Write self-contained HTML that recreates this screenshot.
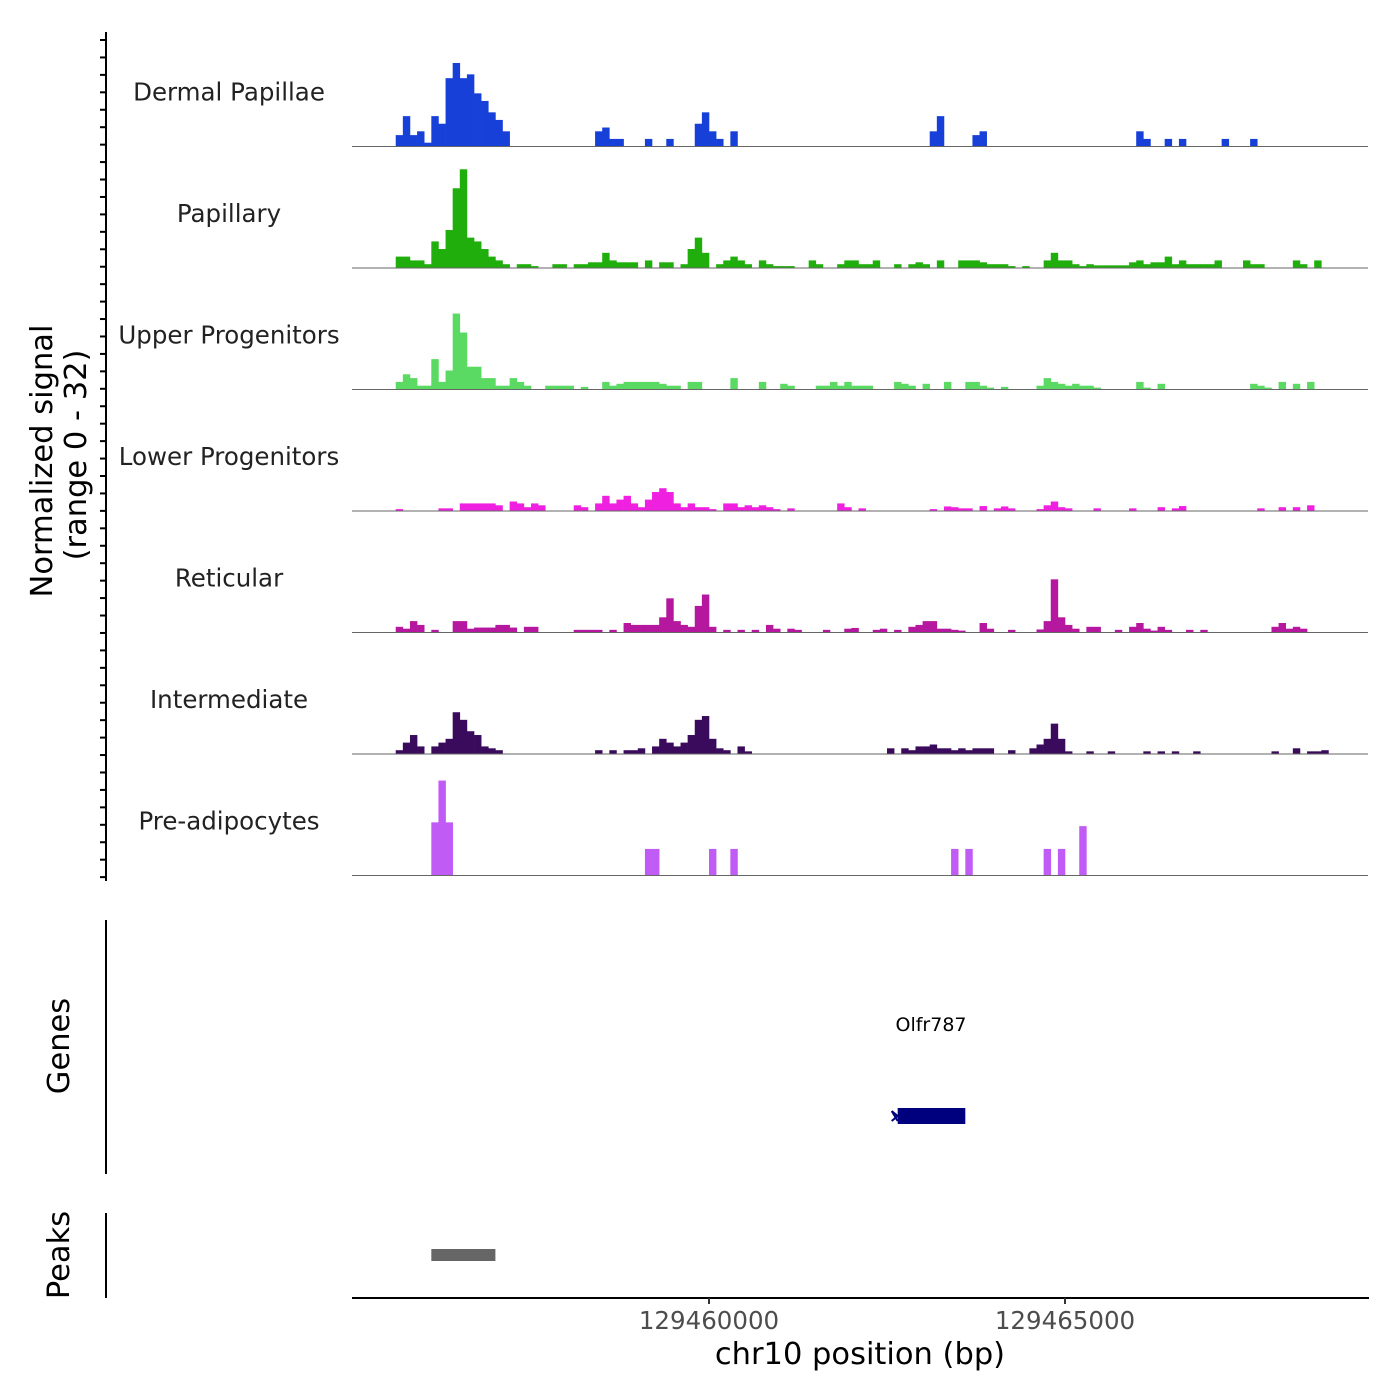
<!DOCTYPE html>
<html><head><meta charset="utf-8"><style>
html,body{margin:0;padding:0;background:#fff}
svg{display:block;font-family:"DejaVu Sans","Liberation Sans",sans-serif}
</style></head><body>
<svg id="chart" width="1400" height="1400" viewBox="0 0 1400 1400" xmlns="http://www.w3.org/2000/svg">
<g id="tracks"></g>
<g id="leftaxis"></g>
<text transform="translate(52,461) rotate(-90)" text-anchor="middle" font-size="30.5" fill="#000">Normalized signal</text>
<text transform="translate(86,455) rotate(-90)" text-anchor="middle" font-size="30.5" fill="#000">(range 0 - 32)</text>
<line x1="106" y1="920" x2="106" y2="1174" stroke="#000" stroke-width="2"/>
<text transform="translate(69,1046) rotate(-90)" text-anchor="middle" font-size="30.5" fill="#000">Genes</text>
<text x="931" y="1031" text-anchor="middle" font-size="19" fill="#000">Olfr787</text>
<g id="genes"></g>
<line x1="106" y1="1213" x2="106" y2="1298" stroke="#000" stroke-width="2"/>
<text transform="translate(69,1255) rotate(-90)" text-anchor="middle" font-size="30.5" fill="#000">Peaks</text>
<g id="peaks"></g>
<g id="xaxis"></g>
<text x="860" y="1364" text-anchor="middle" font-size="30.5" fill="#000">chr10 position (bp)</text>
</svg>
<script>
const binStart = 129455000;
const binSize = 100;
const trackNames = ["Dermal Papillae","Papillary","Upper Progenitors","Lower Progenitors","Reticular","Intermediate","Pre-adipocytes"];
const trackColors = ["#1740d9","#1fae0b","#5ad963","#f020e0","#b5179e","#3a0b5c","#c05cf5"];
const dermalPapillae = [[6,3],[7,8],[8,3],[9,4],[10,1],[11,8],[12,6],[13,18],[14,22],[15,18],[16,19],[17,14],[18,12],[19,9],[20,7],[21,4],[34,4],[35,5],[36,2],[37,2],[41,2],[44,2],[48,6],[49,9],[50,4],[51,2],[53,4],[81,4],[82,8],[87,3],[88,4],[110,4],[111,2],[114,2],[116,2],[122,2],[126,2]];
const papillary = [[6,3],[7,3],[8,2],[9,2],[10,1],[11,7],[12,5],[13,10],[14,21],[15,26],[16,8],[17,7],[18,5],[19,3],[20,2],[21,1],[23,1],[24,1],[25,0.5],[28,1],[29,1],[31,1],[32,1],[33,1.5],[34,1.5],[35,4],[36,2],[37,1.5],[38,1.5],[39,1.5],[41,2],[43,1.5],[44,1.5],[46,1],[47,5],[48,8],[49,4],[51,1],[52,2],[53,3],[54,2],[55,1],[57,2],[58,1],[59,0.5],[60,0.5],[61,0.5],[64,2],[65,1],[68,1],[69,2],[70,2],[71,1],[72,1],[73,2],[76,1],[78,1],[79,1.5],[80,1],[82,2],[85,2],[86,2],[87,2],[88,1.5],[89,1],[90,1],[91,1],[92,0.5],[94,0.5],[97,2],[98,4],[99,2],[100,2],[101,1],[102,0.5],[103,1],[104,0.7],[105,0.7],[106,0.7],[107,0.7],[108,0.7],[109,1.5],[110,2],[111,1],[112,1.5],[113,1.5],[114,3],[115,1],[116,2],[117,1],[118,1],[119,1],[120,1],[121,2],[125,2],[126,1],[127,1],[132,2],[133,1],[135,2]];
const upperProgenitors = [[6,2],[7,4],[8,3],[9,1],[10,1],[11,8],[12,2],[13,5],[14,20],[15,15],[16,6],[17,6],[18,3],[19,3],[20,1],[21,1],[22,3],[23,2],[24,1],[27,1],[28,1],[29,1],[30,1],[32,0.7],[35,2],[36,1],[37,1.5],[38,2],[39,2],[40,2],[41,2],[42,2],[43,1.5],[44,1],[45,1],[47,2],[48,2],[53,3],[57,2],[60,1.5],[61,1],[65,1],[66,1],[67,2],[68,1],[69,2],[70,1],[71,1],[72,1],[76,2],[77,1.5],[78,1],[80,1.5],[83,2],[86,2],[87,2],[88,1],[89,0.5],[91,0.7],[96,1],[97,3],[98,2],[99,1.5],[100,1],[101,1.5],[102,1],[103,1],[104,0.5],[110,2],[111,0.5],[113,1.5],[126,1.5],[127,1],[128,0.5],[130,2],[132,1.5],[134,2]];
const lowerProgenitors = [[6,0.5],[12,0.7],[13,0.7],[15,2],[16,2],[17,2],[18,2],[19,2],[20,1.5],[22,2.5],[23,2],[24,1],[25,2],[26,1.5],[31,1.5],[32,1],[34,2],[35,4],[36,2],[37,3],[38,4],[39,2],[40,1],[41,3],[42,5],[43,6],[44,5],[45,2],[46,1],[47,2],[48,1],[49,1],[50,0.5],[52,2],[53,2],[54,1],[55,1.5],[56,1],[57,1.5],[58,1],[59,0.5],[61,0.7],[68,2],[69,1],[71,0.7],[81,0.5],[83,1.2],[84,1],[85,0.7],[86,0.7],[88,1.3],[90,0.7],[91,1.2],[92,0.7],[96,0.5],[97,1.5],[98,2.5],[99,1],[100,0.7],[104,0.7],[109,0.7],[113,1],[115,0.7],[116,1.3],[127,0.7],[130,1],[132,1],[134,1.5]];
const reticular = [[6,1.5],[7,1],[8,3],[9,2],[11,0.7],[14,3],[15,3],[16,1],[17,1.3],[18,1.3],[19,1.3],[20,2],[21,2],[22,1.3],[24,1.5],[25,1.5],[31,0.7],[32,0.7],[33,0.7],[34,0.7],[36,0.7],[38,2.5],[39,2],[40,2],[41,2],[42,2],[43,4],[44,9],[45,3],[46,2],[47,1.5],[48,7],[49,10],[50,1.5],[52,0.7],[54,0.7],[56,0.7],[58,2],[59,1],[61,1],[62,0.7],[66,0.7],[69,1],[70,1.2],[73,0.7],[74,1],[76,0.7],[78,1.5],[79,2],[80,3],[81,3],[82,1],[83,1],[84,0.7],[85,0.5],[88,2.5],[89,1],[92,0.7],[96,0.8],[97,3],[98,14],[99,4],[100,2],[101,1],[103,1.5],[104,1.5],[107,0.7],[109,1.5],[110,2.5],[111,1],[112,0.5],[113,1.5],[114,0.7],[117,0.7],[119,0.7],[129,1.5],[130,2.5],[131,1],[132,1.5],[133,1]];
const intermediate = [[6,1],[7,3],[8,5],[9,2],[11,2],[12,3],[13,4],[14,11],[15,9],[16,6],[17,5],[18,2],[19,1.5],[20,1],[34,1],[36,1],[38,1],[39,1],[40,1.5],[42,2],[43,4],[44,3],[45,2],[46,3],[47,5],[48,9],[49,10],[50,4],[51,1.5],[52,1],[54,2],[55,0.7],[75,1.5],[77,1.5],[78,1],[79,2],[80,2],[81,2.5],[82,1.5],[83,1.5],[84,1],[85,1.5],[86,1],[87,1.5],[88,1.5],[89,1.5],[92,1],[95,1.5],[96,2.5],[97,4],[98,8],[99,4],[100,0.7],[103,0.7],[106,0.7],[111,0.7],[113,0.7],[115,0.7],[118,0.7],[129,0.7],[132,1.5],[134,0.7],[135,0.7],[136,1]];
const preAdipocytes = [[11,14],[12,25],[13,14],[41,7],[42,7],[50,7],[53,7],[84,7],[86,7],[97,7],[99,7],[102,13]];
const trackData = [dermalPapillae,papillary,upperProgenitors,lowerProgenitors,reticular,intermediate,preAdipocytes];
const xTickValues = [129460000,129465000];
const geneStartBp = 129462650, geneEndBp = 129463600;
const peakStartBp = 129456100, peakEndBp = 129457000;

const NS = "http://www.w3.org/2000/svg";
const PX_PER_BP = 0.0712, X0 = 353;
function xScale(bp){ return X0 + (bp - binStart) * PX_PER_BP; }
const trackTop0 = 25, trackH = 121.5, yMax = 32;
function yScale(t, v){ const base = trackTop0 + (t+1)*trackH; return base - v / yMax * trackH; }
function mk(tag, attrs, parent){ const e = document.createElementNS(NS, tag); for (const k in attrs) e.setAttribute(k, attrs[k]); parent.appendChild(e); return e; }

const tracks = document.getElementById("tracks");
trackData.forEach((data, t) => {
  const g = mk("g", {}, tracks);
  
  
  const base = yScale(t, 0);
  data.forEach(([bin, v]) => {
    const x1 = xScale(binStart + bin*binSize), x2 = xScale(binStart + (bin+1)*binSize);
    const yt = yScale(t, v);
    const r = mk("rect", {x:x1.toFixed(2), y:yt.toFixed(2), width:(x2-x1+0.3).toFixed(2), height:(base-yt).toFixed(2), fill:trackColors[t]}, g);
    
    
  });
  const bl = mk("line", {x1:352, x2:1368, y1:base, y2:base, stroke:"#666", "stroke-width":1}, g);
  
  
  const lb = mk("text", {x:229, y:base - 46, "text-anchor":"middle", "font-size":24.5, fill:"#222"}, g);
  lb.textContent = trackNames[t];
  
  
});

const la = document.getElementById("leftaxis");
mk("line", {x1:106, y1:32, x2:106, y2:881, stroke:"#000", "stroke-width":2}, la);
for (let i = 0; i < 49; i++) {
  const y = 40 + i * 17.44;
  const tk = mk("line", {x1:100, x2:106, y1:y, y2:y, stroke:"#000", "stroke-width":2}, la);
  
  
}

const gg = document.getElementById("genes");
const gx1 = xScale(geneStartBp), gx2 = xScale(geneEndBp);
const gb = mk("rect", {x:gx1, y:1108, width:gx2-gx1, height:16, fill:"#00007f"}, gg);


const ga = mk("path", {d:`M${gx1-6} 1111 L${gx1} 1116 L${gx1-6} 1121 M${gx1-6} 1111 L${gx1} 1121`, stroke:"#00007f", "stroke-width":2, fill:"none"}, gg);



const pg = document.getElementById("peaks");
const px1 = xScale(peakStartBp), px2 = xScale(peakEndBp);
const pr = mk("rect", {x:px1, y:1249, width:px2-px1, height:12, fill:"#666"}, pg);



const xa = document.getElementById("xaxis");
mk("line", {x1:352, x2:1369, y1:1298, y2:1298, stroke:"#000", "stroke-width":2}, xa);
xTickValues.forEach(v => {
  const x = xScale(v);
  const tk = mk("line", {x1:x, x2:x, y1:1298, y2:1304, stroke:"#333", "stroke-width":2}, xa);
  
  
  const tl = mk("text", {x:x, y:1329, "text-anchor":"middle", "font-size":24.5, fill:"#4d4d4d"}, xa);
  tl.textContent = String(v);
  
  
});
</script>
</body></html>
